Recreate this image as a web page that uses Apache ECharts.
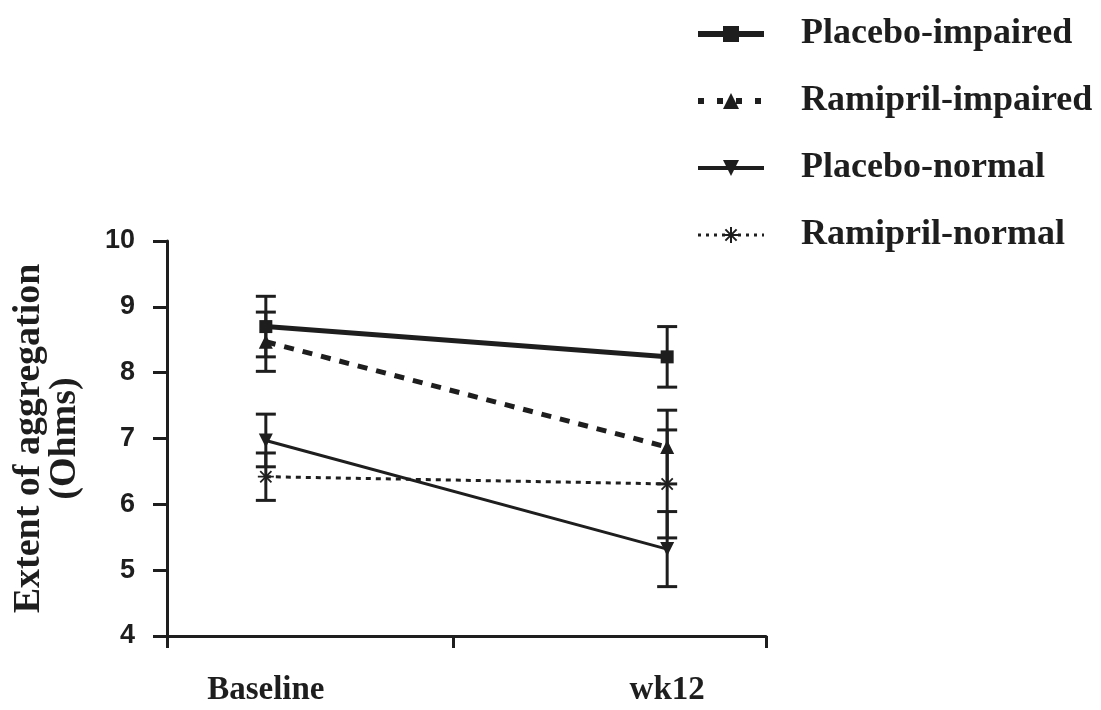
<!DOCTYPE html>
<html>
<head>
<meta charset="utf-8">
<script src="https://cdn.jsdelivr.net/npm/echarts@6/dist/echarts.min.js"></script>
<style>
  html, body { margin: 0; padding: 0; background: #fff; }
  #chart { width: 1101px; height: 710px; }
</style>
</head>
<body>
<div id="chart"></div>
<script>
// categories and where they sit on the x scale (0..2)
const groups = ['Baseline', 'wk12'];
const groupX = [0.33, 1.67];
const xTicks = [0, 0.955, 2];

const yTicks = [4, 5, 6, 7, 8, 9, 10];

// means and error (half-length of the bar)
const placeboImpaired = [8.70, 8.24];
const placeboImpairedErr = [0.46, 0.46];
const ramiprilImpaired = [8.47, 6.87];
const ramiprilImpairedErr = [0.45, 0.56];
const placeboNormal = [6.97, 5.32];
const placeboNormalErr = [0.40, 0.57];
const ramiprilNormal = [6.42, 6.31];
const ramiprilNormalErr = [0.36, 0.82];

const ink = '#1e1e1e';
const serif = '"Liberation Serif", "Times New Roman", serif';
const sans = '"Liberation Sans", Arial, sans-serif';

const asterisk = 'path://M5,0L5,10M0,5L10,5M1.5,1.5L8.5,8.5M1.5,8.5L8.5,1.5';

const seriesDefs = [
  { name: 'Placebo-impaired', values: placeboImpaired, err: placeboImpairedErr, symbol: 'rect', size: 13, width: 5, type: 'solid', legendWidth: 6, legendType: 'solid' },
  { name: 'Ramipril-impaired', values: ramiprilImpaired, err: ramiprilImpairedErr, symbol: 'triangle', size: 14, width: 5, type: [10, 9], legendWidth: 6, legendType: [6, 13] },
  { name: 'Placebo-normal', values: placeboNormal, err: placeboNormalErr, symbol: 'triangle', rotate: 180, size: 14, width: 3, type: 'solid', legendWidth: 4, legendType: 'solid' },
  { name: 'Ramipril-normal', values: ramiprilNormal, err: ramiprilNormalErr, symbol: asterisk, size: 16, width: 3, type: [5, 5], legendWidth: 3, legendType: [3, 5] }
];

// error bar rows: [x, low, high]
const errRows = [];
seriesDefs.forEach(s => {
  s.values.forEach((v, i) => errRows.push([groupX[i], v - s.err[i], v + s.err[i]]));
});

function renderErr(params, api) {
  const top = api.coord([api.value(0), api.value(2)]);
  const bot = api.coord([api.value(0), api.value(1)]);
  const half = 10;
  const style = { stroke: ink, lineWidth: 3 };
  return {
    type: 'group',
    children: [
      { type: 'line', shape: { x1: top[0], y1: top[1], x2: bot[0], y2: bot[1] }, style },
      { type: 'line', shape: { x1: top[0] - half, y1: top[1], x2: top[0] + half, y2: top[1] }, style },
      { type: 'line', shape: { x1: bot[0] - half, y1: bot[1], x2: bot[0] + half, y2: bot[1] }, style }
    ]
  };
}

const chart = echarts.init(document.getElementById('chart'));

const lineSeries = seriesDefs.map(s => ({
  name: s.name,
  type: 'line',
  data: s.values.map((v, i) => [groupX[i], v]),
  symbol: s.symbol,
  symbolRotate: s.rotate || 0,
  symbolSize: s.size,
  showSymbol: true,
  z: 3,
  lineStyle: { color: ink, width: s.width, type: s.type },
  itemStyle: s.symbol === asterisk
    ? { color: ink, borderColor: ink, borderWidth: 1.8 }
    : { color: ink },
  emphasis: { disabled: true },
  animation: false
}));

const option = {
  backgroundColor: '#fff',
  animation: false,
  grid: { left: 167, right: 335, top: 241, bottom: 74 },
  legend: {
    data: seriesDefs.map(s => ({
      name: s.name,
      lineStyle: { width: s.legendWidth, type: s.legendType, color: ink }
    })),
    orient: 'vertical',
    left: 690,
    top: 11,
    itemWidth: 66,
    itemHeight: 20,
    itemGap: 31,
    selectedMode: false,
    textStyle: { fontFamily: serif, fontWeight: 'bold', fontSize: 36, lineHeight: 36, color: ink, padding: [0, 0, 0, 32] }
  },
  xAxis: {
    type: 'value',
    min: 0,
    max: 2,
    splitLine: { show: false },
    axisLine: { lineStyle: { color: ink, width: 3 } },
    axisTick: { show: true, customValues: xTicks, length: 12, lineStyle: { color: ink, width: 3 } },
    axisLabel: {
      customValues: groupX,
      formatter: v => {
        const i = groupX.findIndex(g => Math.abs(g - v) < 1e-6);
        return i >= 0 ? groups[i] : '';
      },
      margin: 38,
      fontFamily: serif, fontWeight: 'bold', fontSize: 33, color: ink
    }
  },
  yAxis: {
    type: 'value',
    min: yTicks[0],
    max: yTicks[yTicks.length - 1],
    interval: 1,
    name: 'Extent of aggregation\n(Ohms)',
    nameLocation: 'middle',
    nameGap: 84,
    nameTextStyle: { fontFamily: serif, fontWeight: 'bold', fontSize: 38, lineHeight: 36, color: ink, align: 'center' },
    splitLine: { show: false },
    axisLine: { show: true, lineStyle: { color: ink, width: 3 } },
    axisTick: { show: true, length: 14, lineStyle: { color: ink, width: 3 } },
    axisLabel: { margin: 32, fontFamily: sans, fontWeight: 'bold', fontSize: 27, color: ink }
  },
  series: [
    {
      type: 'custom',
      renderItem: renderErr,
      data: errRows,
      encode: { x: 0, y: [1, 2] },
      z: 2,
      silent: true
    },
    ...lineSeries
  ]
};

chart.setOption(option);
window.addEventListener('resize', () => chart.resize());
</script>
</body>
</html>
